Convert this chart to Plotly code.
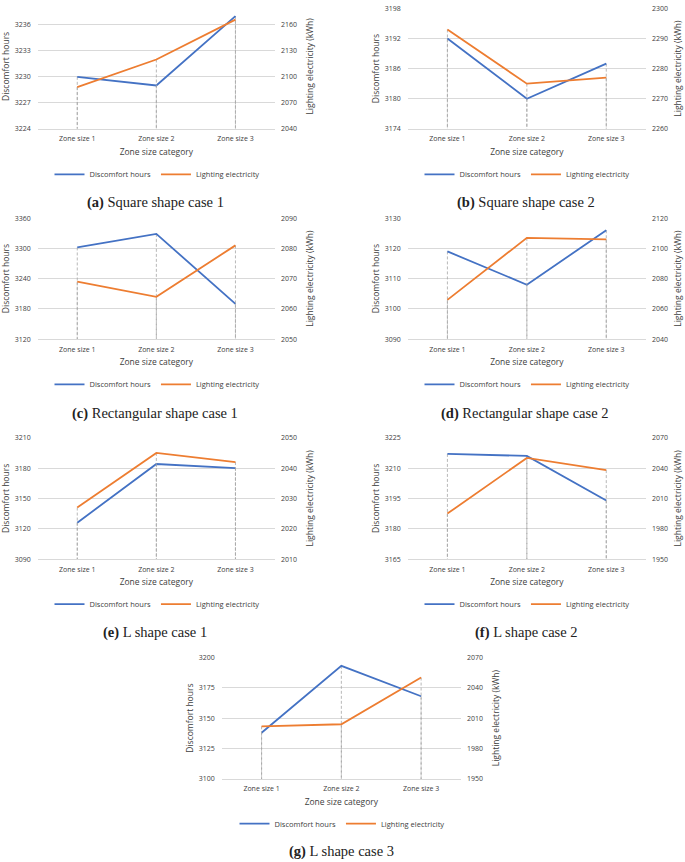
import plotly.graph_objects as go

categories = ["Zone size 1", "Zone size 2", "Zone size 3"]

captions = ["(a)", "(b)", "(c)", "(d)", "(e)", "(f)", "(g)"]
caption_texts = ["Square shape case 1", "Square shape case 2", "Rectangular shape case 1",
                 "Rectangular shape case 2", "L shape case 1", "L shape case 2", "L shape case 3"]

discomfort_a = [3230, 3229, 3237]
lighting_a = [2088, 2120, 2166]
discomfort_b = [3192, 3180, 3187]
lighting_b = [2293, 2275, 2277]
discomfort_c = [3302, 3329, 3190]
lighting_c = [2069, 2064, 2081]
discomfort_d = [3119, 3108, 3126]
lighting_d = [2066, 2107, 2106]
discomfort_e = [3126, 3184, 3180]
lighting_e = [2027, 2045, 2042]
discomfort_f = [3217, 3216, 3194]
lighting_f = [1995, 2050, 2038]
discomfort_g = [3138, 3193, 3168]
lighting_g = [2002, 2004, 2050]

discomfort = [discomfort_a, discomfort_b, discomfort_c, discomfort_d, discomfort_e, discomfort_f, discomfort_g]
lighting = [lighting_a, lighting_b, lighting_c, lighting_d, lighting_e, lighting_f, lighting_g]

# axis settings: (min, max, dtick)
left_axes = [(3224, 3238.4, 3), (3174, 3198.05, 6), (3120, 3360.5, 60), (3090, 3130.05, 10),
             (3090, 3210.1, 30), (3165, 3225.05, 15), (3100, 3200.1, 25)]
right_axes = [(2040, 2184, 30), (2260, 2300.05, 10), (2050, 2090.05, 10), (2040, 2120.1, 20),
              (2010, 2050.05, 10), (1950, 2070.1, 30), (1950, 2070.1, 30)]

W, H = 685, 862
# plot areas in pixels: (left, right, top, bottom)
boxes = [(37.7, 275, 0, 126), (407.7, 646, 4.3, 126),
         (37.7, 275, 216, 338.3), (407.7, 646, 216, 338.3),
         (37.7, 275, 437.7, 560.3), (407.7, 646, 437.7, 560.3),
         (221.7, 461, 659.3, 782.3)]
legend_pos = [(157, 172), (527, 172), (157, 384), (527, 384), (157, 605.7), (527, 605.7), (342, 827.3)]
caption_pos = [(155, 200), (526, 200), (155, 413), (525, 413), (155, 634), (526, 634), (341, 855)]
right_standoff = [11, 8, 11, 8, 11, 8, 11]

BLUE = "#4472C4"
ORANGE = "#ED7D31"
GRID = "#D9D9D9"
DROP = "#A6A6A6"
TXT = "#404040"
SANS = "Open Sans"

fig = go.Figure()
layout = {}
annotations = []

for i in range(7):
    xid = "x" if i == 0 else f"x{i+1}"
    ly = 2 * i + 1
    ry = 2 * i + 2
    lyid = "y" if ly == 1 else f"y{ly}"
    ryid = f"y{ry}"
    legid = "legend" if i == 0 else f"legend{i+1}"
    l0, l1, ld = left_axes[i]
    r0, r1, rd = right_axes[i]
    bx0, bx1, by0, by1 = boxes[i]

    # drop lines
    for vals, yid, ymin in [(discomfort[i], lyid, l0), (lighting[i], ryid, r0)]:
        xs, ys = [], []
        for c, v in zip(categories, vals):
            xs += [c, c, None]
            ys += [v, ymin, None]
        fig.add_trace(go.Scatter(x=xs, y=ys, mode="lines", xaxis=xid, yaxis=yid,
                                 line=dict(color=DROP, width=0.8, dash="3px,2px"),
                                 showlegend=False, hoverinfo="skip"))

    fig.add_trace(go.Scatter(x=categories, y=discomfort[i], mode="lines", name="Discomfort hours",
                             xaxis=xid, yaxis=lyid, line=dict(color=BLUE, width=1.8),
                             legend=legid, showlegend=True))
    fig.add_trace(go.Scatter(x=categories, y=lighting[i], mode="lines", name="Lighting electricity",
                             xaxis=xid, yaxis=ryid, line=dict(color=ORANGE, width=1.8),
                             legend=legid, showlegend=True))

    xdom = [bx0 / W, bx1 / W]
    ydom = [1 - by1 / H, 1 - by0 / H]
    xkey = "xaxis" if i == 0 else f"xaxis{i+1}"
    lykey = "yaxis" if ly == 1 else f"yaxis{ly}"
    rykey = f"yaxis{ry}"

    layout[xkey] = dict(domain=xdom, anchor=lyid, type="category", range=[-0.5, 2.5],
                        showgrid=False, showline=True, linecolor=GRID, linewidth=1,
                        ticks="", ticklabelstandoff=3, tickfont=dict(family=SANS, size=7, color=TXT),
                        title=dict(text="Zone size category", standoff=6,
                                   font=dict(family=SANS, size=8.5, color=TXT)),
                        fixedrange=True)
    layout[lykey] = dict(domain=ydom, anchor=xid, range=[l0, l1], tick0=l0, dtick=ld,
                         showgrid=True, gridcolor=GRID, gridwidth=1, zeroline=False,
                         showline=False, ticks="", ticklabelstandoff=6,
                         tickfont=dict(family=SANS, size=7, color=TXT),
                         title=dict(text="Discomfort hours", standoff=3,
                                    font=dict(family=SANS, size=8.5, color=TXT)),
                         fixedrange=True)
    layout[rykey] = dict(domain=ydom, anchor=xid, overlaying=lyid, side="right",
                         range=[r0, r1], tick0=r0, dtick=rd, showgrid=False, zeroline=False,
                         showline=False, ticks="", ticklabelstandoff=5,
                         tickfont=dict(family=SANS, size=7, color=TXT),
                         title=dict(text="Lighting electricity (kWh)", standoff=right_standoff[i],
                                    font=dict(family=SANS, size=8.5, color=TXT)),
                         fixedrange=True)
    lx, lyp = legend_pos[i]
    layout[legid] = dict(orientation="h", x=lx / W, y=1 - lyp / H, xanchor="center",
                         yanchor="middle", font=dict(family=SANS, size=7.5, color=TXT),
                         bgcolor="rgba(0,0,0,0)", itemwidth=30, tracegroupgap=0)
    cx, cy = caption_pos[i]
    annotations.append(dict(x=cx / W, y=1 - cy / H, xref="paper", yref="paper",
                            xanchor="center", yanchor="middle", showarrow=False,
                            text=f"<b>{captions[i]}</b> {caption_texts[i]}",
                            font=dict(family="Liberation Serif", size=14.5, color="#222222")))

fig.update_layout(**layout)
fig.update_layout(width=W, height=H, margin=dict(l=0, r=0, t=0, b=0),
                  paper_bgcolor="white", plot_bgcolor="white",
                  annotations=annotations, showlegend=True)

fig.write_html("out.html", config={"displayModeBar": False},
               post_script="document.body.style.margin='0px';document.body.style.padding='0px';")
